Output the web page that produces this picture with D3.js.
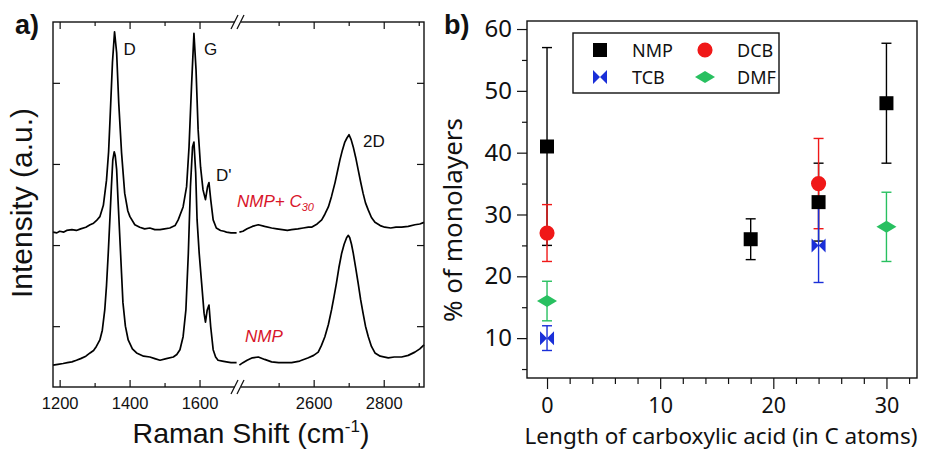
<!DOCTYPE html>
<html><head><meta charset="utf-8">
<script src="https://cdn.jsdelivr.net/npm/d3@7"></script>
<style>body{margin:0;background:#fff} svg{display:block}</style>
</head><body><svg id="c" width="933" height="450"></svg>
<script>
// ---------- DATA: panel a) Raman spectra [Raman shift cm-1, intensity a.u.] ----------
const c30Low = [[1181,1.16],[1192,1.15],[1200,1.17],[1212,1.16],[1220,1.18],[1235,1.19],[1248,1.18],[1260,1.20],[1275,1.22],[1287,1.25],[1297,1.27],[1305,1.30],[1315,1.35],[1325,1.49],[1334,1.80],[1340,2.15],[1344,2.54],[1351,3.25],[1357,3.63],[1363,3.37],[1369,2.75],[1377,2.14],[1386,1.64],[1395,1.42],[1401,1.35],[1415,1.25],[1429,1.22],[1443,1.20],[1458,1.21],[1472,1.19],[1487,1.19],[1500,1.20],[1515,1.21],[1530,1.24],[1539,1.31],[1553,1.47],[1563,1.72],[1570,2.21],[1577,2.95],[1584,3.61],[1590,3.16],[1596,2.42],[1603,1.96],[1610,1.68],[1617,1.56],[1623,1.72],[1627,1.77],[1632,1.56],[1639,1.31],[1648,1.21],[1660,1.18],[1670,1.17],[1677,1.16],[1690,1.15],[1706,1.15]];
const nmpLow = [[1181,-0.48],[1195,-0.47],[1210,-0.46],[1222,-0.45],[1235,-0.44],[1248,-0.42],[1260,-0.40],[1275,-0.37],[1287,-0.33],[1297,-0.30],[1305,-0.25],[1315,-0.17],[1322,-0.05],[1329,0.20],[1334,0.50],[1339,0.90],[1344,1.35],[1348,1.72],[1352,2.05],[1356,2.15],[1359,2.10],[1363,1.93],[1367,1.55],[1372,1.10],[1377,0.65],[1381,0.29],[1388,0.00],[1396,-0.17],[1408,-0.28],[1420,-0.33],[1440,-0.37],[1458,-0.38],[1472,-0.40],[1487,-0.42],[1505,-0.40],[1525,-0.38],[1535,-0.35],[1544,-0.29],[1553,-0.13],[1561,0.20],[1568,0.90],[1574,1.72],[1580,2.21],[1584,2.27],[1589,1.89],[1593,1.31],[1599,0.90],[1606,0.53],[1613,0.16],[1617,0.05],[1622,0.20],[1627,0.26],[1632,-0.01],[1639,-0.29],[1646,-0.38],[1653,-0.42],[1665,-0.43],[1677,-0.44],[1690,-0.45],[1706,-0.45]];
const c30High = [[2388,1.16],[2398,1.17],[2410,1.20],[2425,1.23],[2442,1.25],[2460,1.23],[2480,1.21],[2495,1.20],[2510,1.19],[2525,1.18],[2537,1.19],[2555,1.20],[2570,1.21],[2585,1.22],[2594,1.22],[2610,1.26],[2623,1.31],[2632,1.38],[2642,1.47],[2651,1.60],[2661,1.77],[2668,1.91],[2675,2.05],[2682,2.17],[2689,2.27],[2695,2.32],[2701,2.36],[2707,2.30],[2713,2.21],[2720,2.08],[2727,1.93],[2734,1.78],[2741,1.64],[2748,1.52],[2756,1.43],[2765,1.34],[2775,1.28],[2790,1.24],[2803,1.22],[2820,1.21],[2835,1.22],[2851,1.22],[2870,1.23],[2889,1.25],[2903,1.26],[2915,1.28]];
const nmpHigh = [[2388,-0.48],[2398,-0.45],[2410,-0.42],[2425,-0.39],[2442,-0.38],[2460,-0.41],[2480,-0.44],[2500,-0.45],[2520,-0.45],[2537,-0.45],[2560,-0.43],[2585,-0.39],[2600,-0.36],[2613,-0.32],[2622,-0.24],[2632,-0.13],[2642,0.02],[2651,0.20],[2658,0.36],[2665,0.53],[2672,0.72],[2680,0.90],[2687,1.01],[2694,1.09],[2699,1.12],[2703,1.09],[2708,1.01],[2713,0.90],[2720,0.72],[2727,0.53],[2734,0.33],[2741,0.16],[2748,0.00],[2756,-0.13],[2765,-0.25],[2775,-0.33],[2790,-0.37],[2813,-0.39],[2830,-0.38],[2851,-0.38],[2870,-0.36],[2889,-0.32],[2903,-0.28],[2915,-0.23]];
const lowMajor = [1200, 1400, 1600];
const lowMinor = [1300, 1500];
const highMajor = [2600, 2800];
const highMinor = [2500, 2700, 2900];
const intensityTicks = [0, 1, 2, 3];
const peakLabels = [["D", 1357, "low"], ["G", 1584, "low"], ["D'", 1627, "low"], ["2D", 2701, "high"]];

// ---------- DATA: panel b) % of monolayers vs acid length ----------
const nmpX = [0, 18, 24, 30], nmpY = [41, 26, 32, 48], nmpErr = [16, 3.3, 6.3, 9.7];
const dcbX = [0, 24], dcbY = [27, 35], dcbErr = [4.6, 7.3];
const tcbX = [0, 24], tcbY = [10, 25], tcbErr = [2, 6];
const dmfX = [0, 30], dmfY = [16, 28], dmfErr = [3.2, 5.6];
const yTicksB = [10, 20, 30, 40, 50, 60];
const xTicksB = [0, 10, 20, 30];

// ---------- DRAW ----------
const svg = d3.select("#c");
const FL = "'Liberation Sans', Arial, sans-serif";
const FR = "'Noto Sans', 'Open Sans', sans-serif";
const INK = "#111";

// ===== panel a =====
const L = {x0: 53, x1: 424, y0: 22, y1: 387, xb: 238};
const xLow = d3.scaleLinear().domain([1181, 1710]).range([L.x0, L.xb]);
const xHigh = d3.scaleLinear().domain([2384, 2915]).range([L.xb, L.x1]);
const yInt = d3.scaleLinear().domain([-0.75, 3.75]).range([L.y1, L.y0]);
const gA = svg.append("g");

const lineLow = d3.line().x(d => xLow(d[0])).y(d => yInt(d[1]));
const lineHigh = d3.line().x(d => xHigh(d[0])).y(d => yInt(d[1]));
[[c30Low, lineLow], [nmpLow, lineLow], [c30High, lineHigh], [nmpHigh, lineHigh]].forEach(([s, ln]) => {
  gA.append("path").attr("d", ln(s)).attr("fill", "none").attr("stroke", "#000")
    .attr("stroke-width", 1.7).attr("stroke-linejoin", "round");
});

function clean(g) { g.select(".domain").remove(); g.selectAll("line").attr("stroke", INK).attr("stroke-width", 1.2); }
function axisTicks(axisGen, vals, size, tx, ty, labels) {
  const a = axisGen.tickValues(vals).tickSizeInner(size).tickSizeOuter(0).tickPadding(10);
  a.tickFormat(labels ? d3.format("d") : "");
  const g = gA.append("g").attr("transform", `translate(${tx},${ty})`).call(a).call(clean);
  g.selectAll("text").attr("font-family", FL).attr("font-size", 16.5).attr("fill", INK);
  return g;
}
axisTicks(d3.axisBottom(xLow), lowMajor, -7, 0, L.y1, true);
axisTicks(d3.axisBottom(xLow), lowMinor, -4, 0, L.y1, false);
axisTicks(d3.axisBottom(xHigh), highMajor, -7, 0, L.y1, true);
axisTicks(d3.axisBottom(xHigh), highMinor, -4, 0, L.y1, false);
axisTicks(d3.axisTop(xLow), lowMajor, -7, 0, L.y0, false);
axisTicks(d3.axisTop(xLow), lowMinor, -4, 0, L.y0, false);
axisTicks(d3.axisTop(xHigh), highMajor, -7, 0, L.y0, false);
axisTicks(d3.axisTop(xHigh), highMinor, -4, 0, L.y0, false);
axisTicks(d3.axisLeft(yInt), intensityTicks, -7, L.x0, 0, false);
axisTicks(d3.axisRight(yInt), intensityTicks, -7, L.x1, 0, false);

gA.append("rect").attr("x", L.x0).attr("y", L.y0).attr("width", L.x1 - L.x0).attr("height", L.y1 - L.y0)
  .attr("fill", "none").attr("stroke", INK).attr("stroke-width", 1.4);
// axis break marks
[L.y0, L.y1].forEach(y => {
  gA.append("rect").attr("x", L.xb - 3).attr("y", y - 2).attr("width", 6).attr("height", 4).attr("fill", "#fff");
  [-3, 3].forEach(o => {
    gA.append("line").attr("x1", L.xb + o - 4).attr("y1", y + 7).attr("x2", L.xb + o + 3).attr("y2", y - 7)
      .attr("stroke", INK).attr("stroke-width", 1.3);
  });
});
// peak labels
const peakOff = {"D": [9, 23], "G": [10, 22], "D'": [7, -2], "2D": [14, 12]};
peakLabels.forEach(([t, w, seg]) => {
  const sx = seg === "low" ? xLow(w) : xHigh(w);
  const s = seg === "low" ? c30Low : c30High;
  const pt = s.find(p => p[0] === w);
  gA.append("text").attr("x", sx + peakOff[t][0]).attr("y", yInt(pt[1]) + peakOff[t][1])
    .attr("font-family", FL).attr("font-size", 17).attr("fill", INK).text(t);
});
// sample labels
const red = "#d8152a";
const t1 = gA.append("text").attr("x", 237).attr("y", 207).attr("font-family", FL).attr("font-size", 17)
  .attr("font-style", "italic").attr("fill", red);
t1.append("tspan").text("NMP+ C");
t1.append("tspan").attr("font-size", 11).attr("dy", 4).text("30");
gA.append("text").attr("x", 245).attr("y", 342).attr("font-family", FL).attr("font-size", 17)
  .attr("font-style", "italic").attr("fill", red).text("NMP");
// axis titles
gA.append("text").attr("transform", "translate(32,203) rotate(-90)").attr("text-anchor", "middle")
  .attr("font-family", FL).attr("font-size", 30).attr("fill", INK).text("Intensity (a.u.)");
const xt = gA.append("text").attr("x", 251).attr("y", 443).attr("text-anchor", "middle")
  .attr("font-family", FL).attr("font-size", 28.5).attr("fill", INK);
xt.append("tspan").text("Raman Shift (cm");
xt.append("tspan").attr("font-size", 17).attr("dy", -11).text("-1");
xt.append("tspan").attr("dy", 11).text(")");
gA.append("text").attr("x", 15).attr("y", 34).attr("font-family", FL).attr("font-size", 27)
  .attr("font-weight", "bold").attr("fill", INK).text("a)");

// ===== panel b =====
const B = {x0: 527, x1: 917, y0: 21, y1: 378};
const xB = d3.scaleLinear().domain([-1.77, 32.7]).range([B.x0, B.x1]);
const yB = d3.scaleLinear().domain([3.55, 61.3]).range([B.y1, B.y0]);
const gB = svg.append("g");

const xAx = gB.append("g").attr("transform", `translate(0,${B.y1})`)
  .call(d3.axisBottom(xB).tickValues(xTicksB).tickSizeInner(11).tickSizeOuter(0).tickPadding(9)).call(clean);
xAx.selectAll("text").attr("font-family", FR).attr("font-size", 21.5).attr("fill", INK);
gB.append("g").attr("transform", `translate(0,${B.y1})`)
  .call(d3.axisBottom(xB).tickValues(d3.range(2, 33, 2).filter(v => v % 10 !== 0)).tickSize(6).tickFormat("")).call(clean);
const yAx = gB.append("g").attr("transform", `translate(${B.x0},0)`)
  .call(d3.axisLeft(yB).tickValues(yTicksB).tickSizeInner(10).tickSizeOuter(0).tickPadding(5)).call(clean);
yAx.selectAll("text").attr("font-family", FR).attr("font-size", 24).attr("fill", INK);
gB.append("g").attr("transform", `translate(${B.x0},0)`)
  .call(d3.axisLeft(yB).tickValues(d3.range(5, 60, 10)).tickSize(5).tickFormat("")).call(clean);
gB.append("rect").attr("x", B.x0).attr("y", B.y0).attr("width", B.x1 - B.x0).attr("height", B.y1 - B.y0)
  .attr("fill", "none").attr("stroke", INK).attr("stroke-width", 1.4);

const C = {nmp: "#000", dcb: "#f01818", tcb: "#1a2fd8", dmf: "#28c060"};
const markers = {
  nmp: "M-7,-7H7V7H-7Z",
  dcb: d3.symbol(d3.symbolCircle, 180)(),
  tcb: "M-7,-7L0,0L-7,7Z M7,-7L0,0L7,7Z",
  dmf: "M-10,0L0,-6L10,0L0,6Z"
};
const series = [
  ["nmp", nmpX, nmpY, nmpErr],
  ["dcb", dcbX, dcbY, dcbErr],
  ["tcb", tcbX, tcbY, tcbErr],
  ["dmf", dmfX, dmfY, dmfErr]
];
series.forEach(([k, xs, ys, es]) => {
  xs.forEach((x, i) => {
    const px = xB(x), lo = yB(ys[i] - es[i]), hi = yB(ys[i] + es[i]);
    const eb = gB.append("g").attr("stroke", C[k]).attr("stroke-width", 1.4);
    eb.append("line").attr("x1", px).attr("x2", px).attr("y1", lo).attr("y2", hi);
    eb.append("line").attr("x1", px - 5).attr("x2", px + 5).attr("y1", lo).attr("y2", lo);
    eb.append("line").attr("x1", px - 5).attr("x2", px + 5).attr("y1", hi).attr("y2", hi);
  });
});
series.forEach(([k, xs, ys]) => {
  xs.forEach((x, i) => {
    gB.append("path").attr("d", markers[k]).attr("transform", `translate(${xB(x)},${yB(ys[i])})`).attr("fill", C[k]);
  });
});
// legend
gB.append("rect").attr("x", 573).attr("y", 33).attr("width", 206).attr("height", 60)
  .attr("fill", "#fff").attr("stroke", INK).attr("stroke-width", 1.4);
const legendItems = [["nmp", "NMP", 600, 50], ["dcb", "DCB", 705, 50], ["tcb", "TCB", 600, 77], ["dmf", "DMF", 705, 77]];
legendItems.forEach(([k, t, x, y]) => {
  gB.append("path").attr("d", markers[k]).attr("transform", `translate(${x},${y})`).attr("fill", C[k]);
  gB.append("text").attr("x", x + 32).attr("y", y + 7).attr("font-family", FR).attr("font-size", 18)
    .attr("fill", INK).text(t);
});
gB.append("text").attr("x", 721).attr("y", 444).attr("text-anchor", "middle").attr("font-family", FR)
  .attr("font-size", 22.5).attr("fill", INK).text("Length of carboxylic acid (in C atoms)");
gB.append("text").attr("transform", "translate(462,220) rotate(-90)").attr("text-anchor", "middle")
  .attr("font-family", FR).attr("font-size", 26).attr("fill", INK).text("% of monolayers");
gB.append("text").attr("x", 444).attr("y", 34).attr("font-family", FL).attr("font-size", 27)
  .attr("font-weight", "bold").attr("fill", INK).text("b)");
</script></body></html>
